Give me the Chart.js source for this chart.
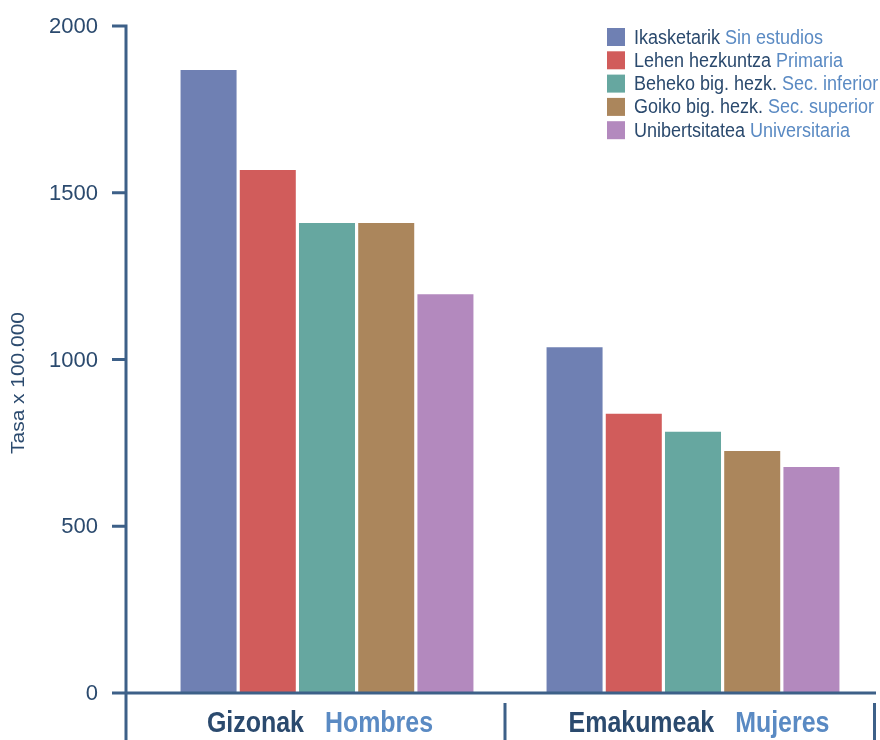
<!DOCTYPE html>
<html>
<head>
<meta charset="utf-8">
<script src="https://cdn.jsdelivr.net/npm/chart.js@4.4.1/dist/chart.umd.min.js"></script>
<style>
  html, body { margin: 0; padding: 0; background: #fff; }
  #wrap { width: 880px; height: 740px; }
</style>
</head>
<body>
<div id="wrap"><canvas id="chart" width="880" height="740"></canvas></div>
<script>
// groups on the x axis (euskara / castellano)
const groupsEu = ['Gizonak', 'Emakumeak'];
const groupsEs = ['Hombres', 'Mujeres'];

// education levels (legend)
const levelsEu = ['Ikasketarik', 'Lehen hezkuntza', 'Beheko big. hezk.', 'Goiko big. hezk.', 'Unibertsitatea'];
const levelsEs = ['Sin estudios', 'Primaria', 'Sec. inferior', 'Sec. superior', 'Universitaria'];

// rate per 100.000, [Gizonak, Emakumeak]
const sinEstudios = [1868, 1037];
const primaria = [1568, 837];
const secInferior = [1409, 783];
const secSuperior = [1409, 726];
const universitaria = [1196, 678];

const yTicks = [0, 500, 1000, 1500, 2000];

const colors = ['#6f80b3', '#d15c5b', '#66a7a0', '#ab865c', '#b389be'];
const navy = '#2b4a6e';
const lightBlue = '#5a8ac3';
const axisColor = '#3d6088';
const sans = '"Liberation Sans", Arial, Helvetica, sans-serif';

const series = [sinEstudios, primaria, secInferior, secSuperior, universitaria];

// text stretched/squeezed horizontally, returns drawn width
function scaledText(ctx, txt, x, y, k) {
    ctx.save();
    ctx.translate(x, y);
    ctx.scale(k, 1);
    ctx.fillText(txt, 0, 0);
    ctx.restore();
    return ctx.measureText(txt).width * k;
}

const axisX = 126;
const labelShift = [-7, 6]; // category labels are not quite centred on the bars

// axis lines, tick labels, two-coloured legend and category labels
const extras = {
    id: 'extras',
    afterDraw(chart) {
        const ctx = chart.ctx;
        const x = chart.scales.x;
        const y = chart.scales.y;
        const area = chart.chartArea;
        ctx.save();

        ctx.strokeStyle = axisColor;
        ctx.lineWidth = 3;
        ctx.beginPath();
        // y axis
        ctx.moveTo(axisX, y.getPixelForValue(2000) - 1.5);
        ctx.lineTo(axisX, 740);
        yTicks.forEach(v => {
            const py = y.getPixelForValue(v);
            ctx.moveTo(axisX - 14, py);
            ctx.lineTo(axisX, py);
        });
        // x axis
        ctx.moveTo(axisX, area.bottom);
        ctx.lineTo(area.right, area.bottom);
        const mid = (x.getPixelForValue(0) + x.getPixelForValue(1)) / 2 - 5;
        ctx.moveTo(mid, area.bottom + 10);
        ctx.lineTo(mid, 740);
        ctx.moveTo(area.right - 1.5, area.bottom + 10);
        ctx.lineTo(area.right - 1.5, 740);
        ctx.stroke();

        ctx.textBaseline = 'middle';

        // y tick labels
        ctx.font = '22px ' + sans;
        ctx.fillStyle = navy;
        ctx.textAlign = 'right';
        yTicks.forEach(v => ctx.fillText(String(v), 98, y.getPixelForValue(v) + 1));
        ctx.textAlign = 'left';

        // y title
        ctx.save();
        ctx.translate(19, 383);
        ctx.rotate(-Math.PI / 2);
        ctx.font = '19px ' + sans;
        const tw = ctx.measureText('Tasa x 100.000').width * 1.1;
        scaledText(ctx, 'Tasa x 100.000', -tw / 2, 0, 1.1);
        ctx.restore();

        // category labels
        ctx.font = 'bold 29px ' + sans;
        groupsEu.forEach((g, i) => {
            const k = 0.86;
            const gap = 21;
            const w = (ctx.measureText(g).width + ctx.measureText(groupsEs[i]).width) * k + gap;
            let px = x.getPixelForValue(i) + labelShift[i] - w / 2;
            ctx.fillStyle = navy;
            px += scaledText(ctx, g, px, 724, k) + gap;
            ctx.fillStyle = lightBlue;
            scaledText(ctx, groupsEs[i], px, 724, k);
        });

        // legend
        ctx.font = '20px ' + sans;
        chart.data.datasets.forEach((ds, i) => {
            const py = 37 + i * 23.3;
            ctx.fillStyle = ds.backgroundColor;
            ctx.fillRect(607, py - 9, 18, 18);
            ctx.fillStyle = navy;
            const w = scaledText(ctx, levelsEu[i] + ' ', 634, py + 1, 0.9);
            ctx.fillStyle = lightBlue;
            scaledText(ctx, levelsEs[i], 634 + w, py + 1, 0.9);
        });
        ctx.restore();
    }
};

new Chart(document.getElementById('chart'), {
    type: 'bar',
    data: {
        labels: groupsEu,
        datasets: series.map((d, i) => ({
            label: levelsEu[i] + ' ' + levelsEs[i],
            data: d,
            backgroundColor: colors[i],
            borderWidth: 0,
            categoryPercentage: 0.809,
            barPercentage: 0.946
        }))
    },
    options: {
        responsive: false,
        animation: false,
        layout: { padding: { top: 26, right: 4, left: 0, bottom: 0 } },
        plugins: {
            legend: { display: false },
            tooltip: { enabled: false }
        },
        scales: {
            x: {
                grid: { display: false },
                border: { display: false },
                ticks: { display: false },
                afterFit(s) { s.height = 47; }
            },
            y: {
                min: 0,
                max: 2000,
                afterBuildTicks(s) { s.ticks = yTicks.map(v => ({ value: v })); },
                grid: { display: false },
                border: { display: false },
                ticks: { display: false },
                afterFit(s) { s.width = 144; }
            }
        }
    },
    plugins: [extras]
});
</script>
</body>
</html>
